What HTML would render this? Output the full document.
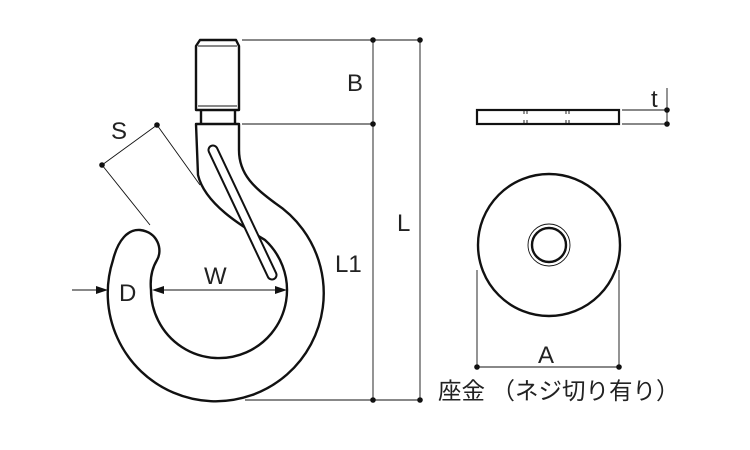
<!DOCTYPE html>
<html><head><meta charset="utf-8"><style>body{margin:0;background:#fff}svg{display:block}</style></head><body>
<svg width="750" height="450" viewBox="0 0 750 450" xmlns="http://www.w3.org/2000/svg" font-family="Liberation Sans, Noto Sans CJK JP, sans-serif">
<rect width="750" height="450" fill="#fff"/>
<g fill="none" stroke="#111" stroke-width="2.4" stroke-linejoin="round">
<path d="M200,40 L236,40 L239,46 L239,110 L196,110 L196,46 Z"/>
<path d="M201,110 L201,124 M235,110 L235,124"/>
<path d="M196,124 L239,124 L239,150 C239,175 255,188 275,203 A108,108 0 1 1 113,260 C118,240 128,229 140,230 C158,232 163,250 157,260 C151,270 150,280 151,290 A68,68 0 1 0 265,240 C245,228 205,205 198,175 Z"/>
<path d="M213,150 L272,275" stroke-width="11" stroke-linecap="round"/>
</g>
<path d="M213,150 L272,275" stroke="#fff" stroke-width="7" stroke-linecap="round"/>
<g stroke="#111" stroke-width="0.9" fill="none">
<path d="M198,46 L237,46 M198,106 L237,106"/>
<path d="M242,40 L420,40 M242,124 L373,124 M245,400 L420,400 M373,40 L373,400 M420,40 L420,400"/>
<path d="M102,165 L157,125 M157,125 L200,185 M102,165 L150,225"/>
<path d="M156,290 L283,290 M72,290 L104,290"/>
<path d="M622,110 L667,110 M622,124 L667,124 M667,88 L667,124"/>
<path d="M477,270 L477,367 M619,270 L619,367 M477,367 L619,367"/>
<path d="M524,111 V114 M527,111 V114 M524,120 V123 M527,120 V123 M566,111 V114 M569,111 V114 M566,120 V123 M569,120 V123"/>
</g>
<g fill="#111">
<circle cx="373" cy="40" r="2.8"/><circle cx="420" cy="40" r="2.8"/><circle cx="373" cy="124" r="2.8"/>
<circle cx="373" cy="400" r="2.8"/><circle cx="420" cy="400" r="2.8"/>
<circle cx="102" cy="165" r="2.8"/><circle cx="157" cy="125" r="2.8"/>
<circle cx="667" cy="110" r="2.8"/><circle cx="667" cy="124" r="2.8"/>
<circle cx="477" cy="367" r="2.8"/><circle cx="619" cy="367" r="2.8"/>
<path d="M152,290 L164,286 L164,294 Z"/><path d="M287,290 L275,286 L275,294 Z"/><path d="M108,290 L96,286 L96,294 Z"/>
</g>
<rect x="477" y="110" width="142" height="14" fill="none" stroke="#111" stroke-width="2.2"/>
<circle cx="549" cy="245" r="71" fill="none" stroke="#111" stroke-width="2.4"/>
<circle cx="549" cy="245" r="21" fill="none" stroke="#111" stroke-width="0.9"/>
<circle cx="549" cy="245" r="17" fill="none" stroke="#111" stroke-width="2.4"/>
<g fill="#222" font-size="24">
<text x="347" y="91">B</text><text x="397" y="231">L</text><text x="335" y="272">L1</text>
<text x="111" y="139">S</text><text x="204" y="284">W</text><text x="119" y="301">D</text>
<text x="651" y="107">t</text><text x="538" y="363">A</text>
<text x="438" y="399" font-size="23.5">座金 （ネジ切り有り）</text>
</g>
</svg>
</body></html>
